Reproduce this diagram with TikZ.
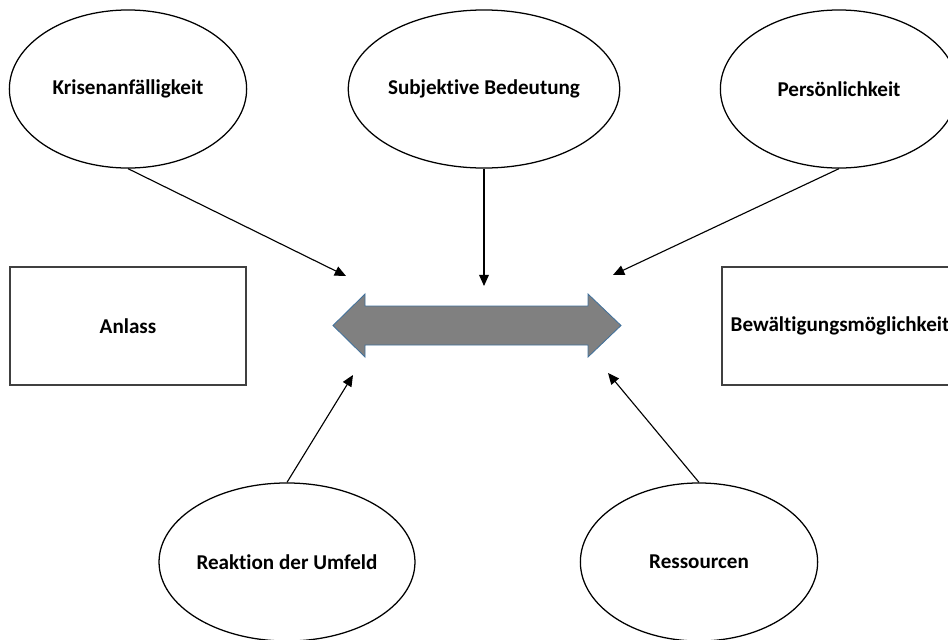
\documentclass[tikz,border=0pt]{standalone}
\usepackage{fontspec}
\setmainfont[Ligatures={NoCommon}]{Carlito}
\usetikzlibrary{arrows.meta,shapes.geometric}
\definecolor{arrowgray}{RGB}{128,128,128}
\definecolor{arrowedge}{RGB}{65,113,156}
\definecolor{boxedge}{RGB}{64,64,64}

\begin{document}
\begin{tikzpicture}[x=0.025cm, y=-0.025cm, font=\fontsize{15}{18}\selectfont\bfseries,
  factor/.style={draw, ellipse, line width=0.9pt, minimum width=5.93cm, minimum height=3.95cm, inner sep=0pt},
  pole/.style={draw=boxedge, rectangle, line width=1pt, minimum width=5.9cm, minimum height=2.95cm, inner sep=0pt},
  balance/.style={draw=arrowedge, fill=arrowgray, line width=0.6pt, line join=miter},
  link/.style={-{Triangle[length=8pt,width=7pt]}, line width=0.8pt}]
  \useasboundingbox (0,0) rectangle (948,639);

  % Influencing factors (top row)
  \node[factor] (krise) at (128,89) {Krisenanfälligkeit};
  \node[factor] (bedeutung) at (484,89) {Subjektive Bedeutung};
  \node[factor] (person) at (839,89) {Persönlichkeit};

  % Influencing factors (bottom row)
  \node[factor] (umfeld) at (287,562) {Reaktion der Umfeld};
  \node[factor] (ressourcen) at (699,562) {Ressourcen};

  % Poles
  \node[pole] (anlass) at (128,326) {Anlass};
  \node[pole] (bewaeltigung) at (840,326) {Bewältigungsmöglichkeit};

  % Balance between the poles (double arrow)
  \draw[balance] (333,325.5) -- (365,294) -- (365,306) -- (588,306) -- (588,294)
    -- (621,325.5) -- (588,357) -- (588,345) -- (365,345) -- (365,357) -- cycle;
  \coordinate (balance) at (477,325.5);

  % Arrow targets around the balance
  \coordinate (kEnd) at (346,276);
  \coordinate (bEnd) at (484,286);
  \coordinate (pEnd) at (613,275);
  \coordinate (uEnd) at (353,375);
  \coordinate (rEnd) at (608,373);

  % Links
  \foreach \src/\dst in {krise.south/kEnd, bedeutung.south/bEnd, person.south/pEnd,
                         umfeld.north/uEnd, ressourcen.north/rEnd} {
    \draw[link] (\src) -- (\dst);
  }
\end{tikzpicture}
\end{document}
